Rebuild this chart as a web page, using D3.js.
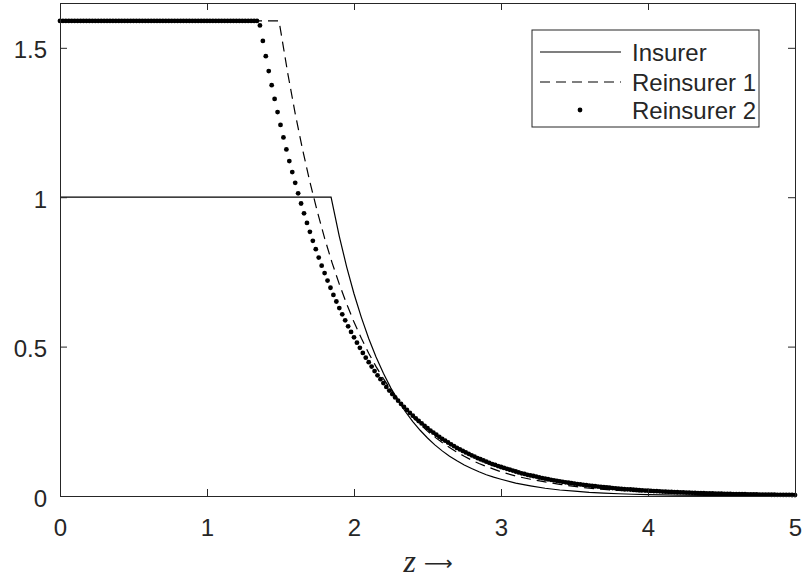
<!DOCTYPE html>
<html>
<head>
<meta charset="utf-8">
<script src="https://cdn.jsdelivr.net/npm/d3@7"></script>
<style>
  body { margin: 0; background: #fff; }
  text { font-family: "Liberation Sans", Arial, sans-serif; fill: #262626; }
</style>
</head>
<body>
<div id="plot"></div>
<script>
d3 = window.d3;

// x ticks / y ticks
var xTicks = [0, 1, 2, 3, 4, 5];
var yTicks = [0, 0.5, 1, 1.5];
var seriesNames = ["Insurer", "Reinsurer 1", "Reinsurer 2"];

// Insurer (solid line)
var insurerZ = [0, 1.844, 1.90, 1.95, 2.00, 2.05, 2.10, 2.15, 2.20, 2.25, 2.30, 2.35, 2.40, 2.45, 2.50,
  2.55, 2.60, 2.65, 2.70, 2.75, 2.80, 2.85, 2.90, 2.95, 3.00,
  3.1, 3.2, 3.3, 3.4, 3.5, 3.6, 3.7, 3.8, 3.9, 4.0, 4.2, 4.4, 4.6, 4.8, 5.0];
var insurerY = [1, 1, 0.869, 0.767, 0.677, 0.598, 0.527, 0.465, 0.411, 0.362, 0.320, 0.282, 0.249, 0.220, 0.194,
  0.171, 0.151, 0.133, 0.118, 0.104, 0.092, 0.081, 0.071, 0.063, 0.056,
  0.043, 0.034, 0.026, 0.020, 0.016, 0.012, 0.0097, 0.0075, 0.0059, 0.0046, 0.0028, 0.0017, 0.0010, 0.0006, 0.0004];

// Reinsurer 1 (dashed line)
var reins1Z = [0, 1.49, 1.55, 1.60, 1.65, 1.70, 1.75, 1.80, 1.85, 1.90, 1.95, 2.00, 2.05, 2.10, 2.15, 2.20,
  2.25, 2.30, 2.35, 2.40, 2.45, 2.50, 2.55, 2.60, 2.65, 2.70, 2.75, 2.80, 2.85, 2.90, 2.95, 3.00,
  3.1, 3.2, 3.3, 3.4, 3.5, 3.6, 3.7, 3.8, 3.9, 4.0, 4.2, 4.4, 4.6, 4.8, 5.0];
var reins1Y = [1.59, 1.59, 1.413, 1.280, 1.160, 1.051, 0.953, 0.863, 0.782, 0.709, 0.643, 0.582, 0.528, 0.478, 0.433, 0.393,
  0.356, 0.322, 0.292, 0.265, 0.240, 0.217, 0.197, 0.179, 0.162, 0.147, 0.133, 0.120, 0.109, 0.099, 0.090, 0.081,
  0.0666, 0.056, 0.047, 0.039, 0.032, 0.026, 0.022, 0.0185, 0.0155, 0.013, 0.009, 0.0062, 0.0043, 0.003, 0.0021];

// Reinsurer 2 (dots), sampled every 0.02 from z = 0 to 5
var dotStep = 0.02;
var reins2Y = [
  1.59, 1.59, 1.59, 1.59, 1.59, 1.59, 1.59, 1.59, 1.59, 1.59, 1.59, 1.59, 1.59, 1.59, 1.59, 1.59, 1.59,
  1.59, 1.59, 1.59, 1.59, 1.59, 1.59, 1.59, 1.59, 1.59, 1.59, 1.59, 1.59, 1.59, 1.59, 1.59, 1.59, 1.59,
  1.59, 1.59, 1.59, 1.59, 1.59, 1.59, 1.59, 1.59, 1.59, 1.59, 1.59, 1.59, 1.59, 1.59, 1.59, 1.59, 1.59,
  1.59, 1.59, 1.59, 1.59, 1.59, 1.59, 1.59, 1.59, 1.59, 1.59, 1.59, 1.59, 1.59, 1.59, 1.59, 1.59, 1.59,
  1.575, 1.523, 1.472, 1.422, 1.375, 1.329, 1.285, 1.242, 1.200, 1.160,
  1.121, 1.084, 1.048, 1.013, 0.979, 0.946, 0.914, 0.884, 0.854, 0.826,
  0.798, 0.771, 0.746, 0.721, 0.697, 0.673, 0.651, 0.629, 0.608, 0.588,
  0.568, 0.549, 0.531, 0.513, 0.496, 0.479, 0.463, 0.448, 0.433, 0.418,
  0.404, 0.391, 0.378, 0.365, 0.353, 0.341, 0.330, 0.319, 0.308, 0.298,
  0.288, 0.278, 0.269, 0.260, 0.251, 0.243, 0.235, 0.227, 0.219, 0.212,
  0.205, 0.198, 0.191, 0.185, 0.179, 0.173, 0.167, 0.161, 0.156, 0.151,
  0.146, 0.141, 0.136, 0.132, 0.127, 0.123, 0.119, 0.115, 0.111, 0.107,
  0.104, 0.100, 0.097, 0.094, 0.091, 0.088, 0.085, 0.082, 0.079, 0.076,
  0.074, 0.071, 0.069, 0.067, 0.065, 0.062, 0.060, 0.058, 0.056, 0.054,
  0.0526, 0.0508, 0.0491, 0.0475, 0.0459, 0.0443, 0.0429, 0.0414, 0.0400, 0.0387,
  0.0374, 0.0362, 0.0350, 0.0338, 0.0327, 0.0316, 0.0305, 0.0295, 0.0285, 0.0276,
  0.0266, 0.0257, 0.0249, 0.0240, 0.0232, 0.0225, 0.0217, 0.0210, 0.0203, 0.0196,
  0.0190, 0.0183, 0.0177, 0.0171, 0.0165, 0.0160, 0.0155, 0.0149, 0.0144, 0.0140,
  0.0135, 0.0130, 0.0126, 0.0122, 0.0118, 0.0114, 0.0110, 0.0106, 0.0103, 0.0099,
  0.0096, 0.0093, 0.0090, 0.0087, 0.0084, 0.0081, 0.0078, 0.0076, 0.0073, 0.0071,
  0.0068, 0.0066, 0.0064, 0.0062, 0.0060, 0.0058, 0.0056, 0.0054, 0.0052, 0.0050,
  0.0049, 0.0047, 0.0045, 0.0044, 0.0042, 0.0041, 0.0040, 0.0038, 0.0037, 0.0036,
  0.0035, 0.0033, 0.0032
];

var margin = {top: 3, right: 7, bottom: 82, left: 60},
    width = 802 - margin.left - margin.right,
    height = 578 - margin.top - margin.bottom;

var axisColor = "#262626";

var svg = d3.select("#plot")
            .append("svg")
            .attr("width", width + margin.left + margin.right)
            .attr("height", height + margin.top + margin.bottom)
            .append("g")
            .attr("transform", "translate(" + margin.left + "," + margin.top + ")");

var x = d3.scaleLinear()
  .domain([0, 5])
  .range([0, width]);

var y = d3.scaleLinear()
  .domain([0, 1.65])
  .range([height, 0]);

// lines
var line = d3.line()
  .x(function(d) { return x(d[0]); })
  .y(function(d) { return y(d[1]); });

svg.append("path")
  .datum(insurerZ.map(function(z, i) { return [z, insurerY[i]]; }))
  .attr("fill", "none")
  .attr("stroke", "#000")
  .attr("stroke-width", 1.2)
  .attr("d", line);

svg.append("path")
  .datum(reins1Z.map(function(z, i) { return [z, reins1Y[i]]; }))
  .attr("fill", "none")
  .attr("stroke", "#000")
  .attr("stroke-width", 1.2)
  .attr("stroke-dasharray", "10,6")
  .attr("d", line);

svg.selectAll("circle.dot")
  .data(reins2Y)
  .enter()
  .append("circle")
  .attr("class", "dot")
  .attr("cx", function(d, i) { return x(i * dotStep); })
  .attr("cy", function(d) { return y(d); })
  .attr("r", 2.4)
  .attr("fill", "#000");

// axes (MATLAB box with inward ticks)
var xAxis = svg.append("g")
  .attr("transform", "translate(0," + height + ")")
  .call(d3.axisBottom(x).tickValues(xTicks).tickSize(-7).tickSizeOuter(0).tickPadding(23)
    .tickFormat(d3.format("")));
var xTop = svg.append("g")
  .call(d3.axisTop(x).tickValues(xTicks).tickSize(-7).tickSizeOuter(0).tickFormat(""));
var yAxis = svg.append("g")
  .call(d3.axisLeft(y).tickValues(yTicks).tickSize(-7).tickSizeOuter(0).tickPadding(13)
    .tickFormat(d3.format("")));
var yRight = svg.append("g")
  .attr("transform", "translate(" + width + ",0)")
  .call(d3.axisRight(y).tickValues(yTicks).tickSize(-7).tickSizeOuter(0).tickFormat(""));

svg.selectAll(".domain").attr("stroke", axisColor).attr("stroke-width", 1);
svg.selectAll(".tick line").attr("stroke", axisColor).attr("stroke-width", 1);
svg.selectAll(".tick text")
  .attr("fill", axisColor)
  .style("font-size", "24px")
  .style("font-family", "'Liberation Sans', Arial, sans-serif");
yAxis.selectAll(".tick text").attr("dy", "0.42em");

// X axis label
var xLabel = svg.append("text")
  .attr("x", width / 2 - 24)
  .attr("y", height + 76)
  .style("font-family", "'Liberation Serif', 'Times New Roman', serif")
  .attr("fill", "#000");
xLabel.append("tspan").style("font-style", "italic").style("font-size", "32px").text("z");
xLabel.append("tspan").attr("dx", 8).attr("dy", -2)
  .style("font-family", "'DejaVu Sans', sans-serif").style("font-size", "20px").text("⟶");

// legend
var legend = svg.append("g")
  .attr("transform", "translate(" + (532 - margin.left) + "," + (30 - margin.top) + ")");

legend.append("rect")
  .attr("width", 227)
  .attr("height", 97)
  .attr("fill", "#fff")
  .attr("stroke", axisColor)
  .attr("stroke-width", 1);

var rowY = [22, 52, 80];
seriesNames.forEach(function(name, i) {
  var row = legend.append("g").attr("transform", "translate(0," + rowY[i] + ")");
  if (i < 2) {
    row.append("line")
      .attr("x1", 8).attr("x2", 89)
      .attr("stroke", "#000")
      .attr("stroke-width", 1.2)
      .attr("stroke-dasharray", i == 1 ? "10,6" : null);
  } else {
    row.append("circle").attr("cx", 48).attr("r", 2.4).attr("fill", "#000");
  }
  row.append("text")
    .attr("x", 100)
    .attr("dy", "0.36em")
    .style("font-size", "24px")
    .attr("fill", "#000")
    .text(name);
});
</script>
</body>
</html>
